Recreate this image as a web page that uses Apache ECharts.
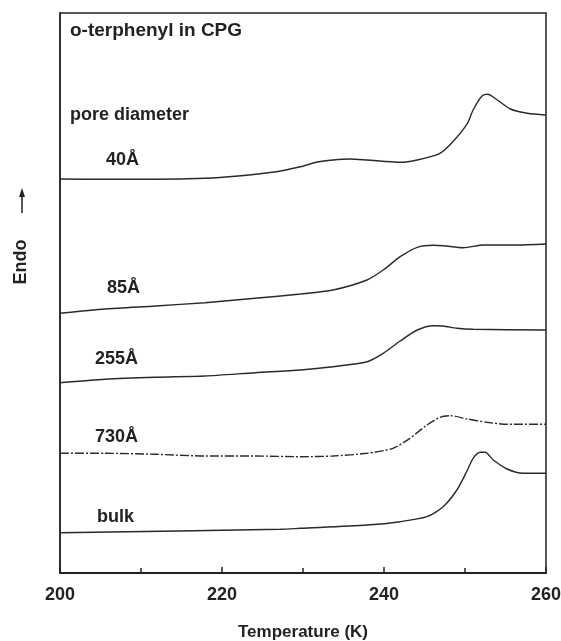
<!DOCTYPE html>
<html>
<head>
<meta charset="utf-8">
<script src="https://cdn.jsdelivr.net/npm/echarts@6/dist/echarts.min.js"></script>
<style>html,body{margin:0;padding:0;background:#fff;}#c{width:561px;height:641px;}</style>
</head>
<body>
<div id="c"></div>
<script>
// Temperature (K) and Endo signal (arbitrary units, curves offset vertically)
const t40  = [200, 205.6, 211.8, 217.9, 222.0, 226.2, 229.7, 231.8, 233.7, 235.8, 237.9, 242.0, 244.1, 246.9, 248.5, 250.3, 251.0, 252.1, 252.8, 254.0, 255.6, 257.7, 260];
const v40  = [39.4, 39.37, 39.37, 39.47, 39.7, 40.07, 40.63, 41.1, 41.3, 41.4, 41.3, 41.07, 41.3, 41.97, 43.13, 44.97, 46.3, 47.7, 47.87, 47.3, 46.4, 45.97, 45.8];
const t85  = [200, 205.6, 211.8, 217.9, 224.1, 229.7, 233.7, 237.9, 239.9, 242.0, 244.1, 246.1, 247.3, 249.8, 252.3, 256.4, 260];
const v85  = [25.97, 26.4, 26.7, 27.03, 27.47, 27.9, 28.3, 29.3, 30.3, 31.63, 32.57, 32.77, 32.73, 32.53, 32.8, 32.8, 32.9];
const t255 = [200, 205.6, 211.8, 217.9, 224.1, 229.7, 233.7, 237.9, 239.9, 242.0, 244.1, 246.1, 247.3, 249.0, 251.0, 260];
const v255 = [19.03, 19.37, 19.57, 19.7, 20.03, 20.3, 20.63, 21.13, 21.97, 23.2, 24.3, 24.73, 24.7, 24.47, 24.37, 24.3];
const t730 = [200, 205.6, 211.8, 217.9, 224.1, 229.7, 233.7, 237.9, 241.1, 243.2, 245.3, 246.9, 248.2, 250.3, 252.7, 255.2, 260];
const v730 = [11.97, 11.97, 11.87, 11.7, 11.7, 11.63, 11.7, 11.97, 12.47, 13.47, 14.8, 15.57, 15.73, 15.4, 15.07, 14.87, 14.87];
const tBulk = [200, 227.2, 229.7, 237.9, 242.0, 245.3, 247.3, 249.0, 250.3, 251.0, 251.9, 252.5, 253.5, 255.2, 257.2, 260];
const vBulk = [4.03, 4.37, 4.47, 4.8, 5.13, 5.63, 6.63, 8.3, 10.3, 11.47, 12.07, 12.07, 11.3, 10.4, 9.97, 9.97];
const seriesNames = ['40Å', '85Å', '255Å', '730Å', 'bulk'];
const xTicks = [200, 220, 240, 260];

const zip = (a, b) => a.map((x, i) => [x, b[i]]);
const FONT = '"Liberation Sans", Arial, Helvetica, sans-serif';
const ink = '#222';

const curves = [[t40, v40], [t85, v85], [t255, v255], [t730, v730], [tBulk, vBulk]];
const series = curves.map((c, i) => ({
  name: seriesNames[i],
  type: 'line',
  data: zip(c[0], c[1]),
  smooth: 0.25,
  showSymbol: false,
  lineStyle: { color: '#2a2a2a', width: 1.4, type: i === 3 ? [9, 2, 2, 2] : 'solid' },
  silent: true
}));

const labelPos = [[106, 160], [107, 288], [95, 359], [95, 437], [97, 517]];
const graphics = [
  { type: 'text', x: 70, y: 31, style: { text: 'o-terphenyl in CPG', font: 'bold 19px ' + FONT, fill: ink, verticalAlign: 'middle' } },
  { type: 'text', x: 70, y: 115, style: { text: 'pore diameter', font: 'bold 18px ' + FONT, fill: ink, verticalAlign: 'middle' } }
].concat(seriesNames.map((n, i) => ({
  type: 'text', x: labelPos[i][0], y: labelPos[i][1],
  style: { text: n, font: 'bold 18px ' + FONT, fill: ink, verticalAlign: 'middle' }
}))).concat([
  { type: 'text', x: 21, y: 262, rotation: Math.PI / 2,
    style: { text: 'Endo', font: 'bold 18px ' + FONT, fill: ink, align: 'center', verticalAlign: 'middle' } },
  { type: 'line', shape: { x1: 22, y1: 213, x2: 22, y2: 194 }, style: { stroke: ink, lineWidth: 1.5 } },
  { type: 'polygon', shape: { points: [[22, 188], [19, 197], [25, 197]] }, style: { fill: ink } }
]);

const chart = echarts.init(document.getElementById('c'), null, { renderer: 'canvas' });
chart.setOption({
  animation: false,
  backgroundColor: '#fff',
  grid: { left: 60, right: 15, top: 13, bottom: 68, outerBoundsMode: 'none', containLabel: false,
    show: true, borderColor: '#222', borderWidth: 1.5, backgroundColor: 'transparent' },
  xAxis: {
    type: 'value', min: 200, max: 260, interval: 20,
    name: 'Temperature (K)', nameLocation: 'middle', nameGap: 51,
    nameTextStyle: { fontFamily: FONT, fontWeight: 'bold', fontSize: 17, color: ink },
    axisLine: { show: true, lineStyle: { color: '#222', width: 2 } },
    axisTick: { show: true, inside: true, length: 6, lineStyle: { color: '#222', width: 1.5 } },
    minorTick: { show: true, splitNumber: 2, length: 5, lineStyle: { color: '#222', width: 1.5 } },
    axisLabel: { fontFamily: FONT, fontWeight: 'bold', fontSize: 18, color: ink, margin: 13,
      formatter: v => xTicks.includes(v) ? String(v) : '' },
    splitLine: { show: false }
  },
  yAxis: {
    type: 'value', min: 0, max: 56,
    axisLine: { show: true, lineStyle: { color: '#222', width: 1.5 } },
    axisTick: { show: false }, axisLabel: { show: false }, splitLine: { show: false }
  },
  graphic: graphics,
  series: series
});
</script>
</body>
</html>
